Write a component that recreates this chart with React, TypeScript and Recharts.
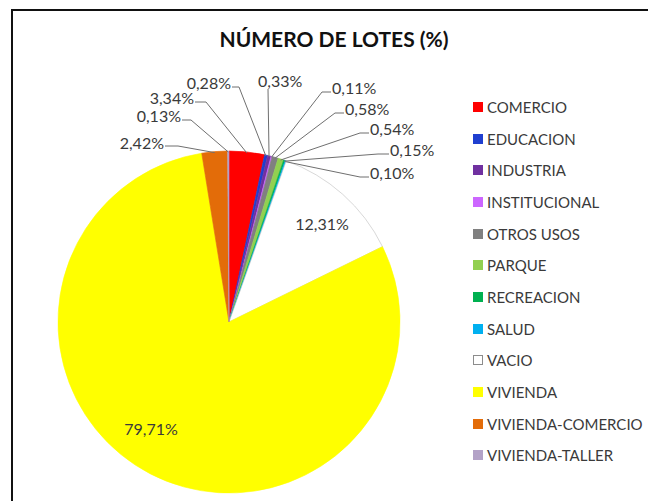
import React from 'react'
import { PieChart, Pie, Cell } from 'recharts'

// Uso del suelo — porcentaje de lotes
const CATEGORIES = [
  'COMERCIO', 'EDUCACION', 'INDUSTRIA', 'INSTITUCIONAL', 'OTROS USOS', 'PARQUE',
  'RECREACION', 'SALUD', 'VACIO', 'VIVIENDA', 'VIVIENDA-COMERCIO', 'VIVIENDA-TALLER',
]
const PERCENTS = [3.34, 0.28, 0.33, 0.11, 0.58, 0.54, 0.15, 0.10, 12.31, 79.71, 2.42, 0.13]
const COLORS = [
  '#ff0000', '#1f3fd0', '#7030a0', '#cc66ff', '#808080', '#92d050',
  '#00b050', '#00b0f0', '#ffffff', '#ffff00', '#e36c09', '#b3a2c7',
]

const data = CATEGORIES.map((name, i) => ({ name, value: PERCENTS[i] }))

// label placement (text pos, anchor, knee of the leader line, end of underscore)
type LabelPos = { tx: number; ty: number; anchor: 'start' | 'end' | 'middle'; kx?: number; ky?: number; ex?: number }
const LABEL_LAYOUT: LabelPos[] = [
  { tx: 194, ty: 97, anchor: 'end', kx: 206, ky: 102, ex: 195 },
  { tx: 231, ty: 82, anchor: 'end', kx: 239, ky: 87, ex: 232 },
  { tx: 258, ty: 80, anchor: 'start', kx: 268, ky: 89, ex: 268 },
  { tx: 332, ty: 87, anchor: 'start', kx: 322, ky: 92, ex: 331 },
  { tx: 345, ty: 108, anchor: 'start', kx: 335, ky: 113, ex: 344 },
  { tx: 370, ty: 128, anchor: 'start', kx: 360, ky: 133, ex: 369 },
  { tx: 390, ty: 149, anchor: 'start', kx: 378, ky: 154, ex: 389 },
  { tx: 370, ty: 172, anchor: 'start', kx: 360, ky: 177, ex: 369 },
  { tx: 322, ty: 223, anchor: 'middle' },
  { tx: 151, ty: 428, anchor: 'middle' },
  { tx: 164, ty: 142, anchor: 'end', kx: 178, ky: 146, ex: 165 },
  { tx: 181, ty: 115, anchor: 'end', kx: 191, ky: 120, ex: 182 },
]

const RAD = Math.PI / 180
const fmt = (v: number) => `${v.toFixed(2).replace('.', ',')}%`

function renderLabel(props: any) {
  const { cx, cy, midAngle, outerRadius, index, value } = props
  const pos = LABEL_LAYOUT[index]
  const px = cx + (outerRadius - 1) * Math.cos(-midAngle * RAD)
  const py = cy + (outerRadius - 1) * Math.sin(-midAngle * RAD)
  return (
    <g key={`lbl-${index}`}>
      {pos.kx !== undefined && (
        <polyline
          points={`${px},${py} ${pos.kx},${pos.ky} ${pos.ex},${pos.ky}`}
          fill="none"
          stroke="#6f6f6f"
          strokeWidth={1}
        />
      )}
      <text
        x={pos.tx}
        y={pos.ty}
        textAnchor={pos.anchor}
        dominantBaseline="central"
        fill="#3a3a3a"
        fontSize={16}
        fontFamily="Lato, sans-serif"
      >
        {fmt(value)}
      </text>
    </g>
  )
}

function LegendBox() {
  return (
    <div style={{ position: 'absolute', left: 473, top: 91 }}>
      {CATEGORIES.map((name, i) => (
        <div key={name} style={{ display: 'flex', alignItems: 'center', height: 31.7 }}>
          <span
            style={{
              width: 10, height: 10, background: COLORS[i], marginRight: 4,
              boxSizing: 'border-box',
              border: name === 'VACIO' ? '1px solid #8c8c8c' : 'none',
            }}
          />
          <span style={{ fontFamily: 'Lato, sans-serif', fontSize: 15, color: '#3a3a3a' }}>{name}</span>
        </div>
      ))}
    </div>
  )
}

export default function App() {
  return (
    <div style={{ position: 'absolute', left: 0, top: 0, width: 648, height: 501, background: '#ffffff', overflow: 'hidden' }}>
      {/* frame */}
      <div style={{
        position: 'absolute', left: 11, top: 9, width: 660, height: 520,
        borderTop: '2px solid #111', borderLeft: '2px solid #111',
      }} />
      <div style={{
        position: 'absolute', left: 0, width: 668, top: 26, textAlign: 'center',
        fontFamily: 'Lato, sans-serif', fontWeight: 700, fontSize: 21, color: '#111',
      }}>
        NÚMERO DE LOTES (%)
      </div>
      <div style={{ position: 'absolute', left: 0, top: 0 }}>
        <PieChart width={648} height={501} margin={{ top: 0, right: 0, bottom: 0, left: 0 }}>
          <Pie
            data={data}
            dataKey="value"
            nameKey="name"
            cx={229}
            cy={322}
            outerRadius={171}
            startAngle={90}
            endAngle={-270}
            label={renderLabel}
            labelLine={false}
            isAnimationActive={false}
          >
            {data.map((d, i) => (
              <Cell
                key={d.name}
                fill={COLORS[i]}
                stroke={d.name === 'VACIO' ? '#bdbdbd' : COLORS[i]}
                strokeWidth={0.6}
              />
            ))}
          </Pie>
        </PieChart>
      </div>
      <LegendBox />
    </div>
  )
}
